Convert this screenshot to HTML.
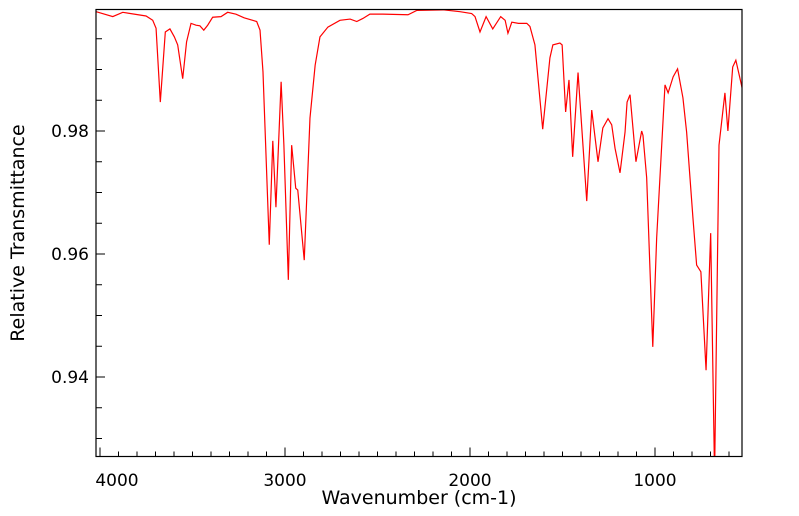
<!DOCTYPE html>
<html><head><meta charset="utf-8"><style>
html,body{margin:0;padding:0;background:#fff;}
svg{display:block;font-family:"DejaVu Sans","Liberation Sans",sans-serif;}
</style></head><body>
<svg id="chart" width="799" height="516" viewBox="0 0 799 516">
<defs><clipPath id="plotclip"><rect x="96" y="9.5" width="646" height="447"/></clipPath></defs>
<g id="axes"></g>
<path id="spectrum" fill="none" stroke="#ff0000" stroke-width="1.2" clip-path="url(#plotclip)"/>
<rect x="96" y="9.5" width="646" height="447" fill="none" stroke="#000" stroke-width="1.2"/>
<text x="419" y="504" text-anchor="middle" font-size="19">Wavenumber (cm-1)</text>
<text transform="translate(24,233) rotate(-90)" text-anchor="middle" font-size="19">Relative Transmittance</text>
</svg>
<script>
const wavenumbers = [4021,3931,3877,3751,3715,3697,3674,3647,3622,3598,3580,3553,3532,3508,3481,3460,3439,3418,3391,3346,3310,3265,3221,3153,3135,3119,3085,3066,3049,3021,3006,2982,2964,2942,2931,2896,2865,2837,2811,2768,2703,2648,2612,2579,2541,2471,2335,2288,2146,2054,1991,1973,1946,1913,1877,1834,1810,1795,1774,1738,1693,1676,1649,1607,1568,1552,1514,1502,1483,1465,1445,1416,1369,1342,1308,1282,1254,1234,1216,1189,1162,1151,1135,1103,1072,1065,1045,1012,991,946,929,902,878,849,829,795,775,752,724,699,678,654,622,606,580,563,541,527];
const transmittance = [0.9994,0.9986,0.9993,0.9987,0.9980,0.9967,0.9847,0.9961,0.9966,0.9953,0.9940,0.9885,0.9945,0.9975,0.9972,0.9971,0.9964,0.9972,0.9985,0.9986,0.9993,0.9990,0.9984,0.9978,0.9964,0.9896,0.9615,0.9784,0.9676,0.9880,0.9777,0.9558,0.9777,0.9707,0.9704,0.9590,0.9821,0.9907,0.9953,0.9969,0.9980,0.9982,0.9978,0.9983,0.9990,0.9990,0.9989,0.9996,0.9997,0.9994,0.9991,0.9986,0.9961,0.9986,0.9966,0.9986,0.9980,0.9959,0.9977,0.9975,0.9975,0.9970,0.9940,0.9803,0.9919,0.9940,0.9943,0.9940,0.9831,0.9883,0.9758,0.9895,0.9686,0.9834,0.9750,0.9805,0.9820,0.9810,0.9772,0.9732,0.9798,0.9847,0.9859,0.9750,0.9800,0.9793,0.9724,0.9449,0.9626,0.9875,0.9862,0.9888,0.9901,0.9854,0.9798,0.9659,0.9582,0.9571,0.9411,0.9634,0.9240,0.9777,0.9862,0.9800,0.9904,0.9915,0.9886,0.9867];
const xTickValues = [4000,3000,2000,1000];
const xTickLabels = ["4000","3000","2000","1000"];
const yTickValues = [0.94,0.96,0.98];
const yTickLabels = ["0.94","0.96","0.98"];

const NS = "http://www.w3.org/2000/svg";
function xScale(w){ return 285 + (3000 - w) * 0.185; }
function yScale(t){ return 131 - (t - 0.98) * 6150; }

let d = "";
for (let i = 0; i < wavenumbers.length; i++) {
  d += (i ? "L" : "M") + xScale(wavenumbers[i]).toFixed(2) + "," + yScale(transmittance[i]).toFixed(2);
}
const line = document.getElementById("spectrum");
line.setAttribute("d", d);

const axes = document.getElementById("axes");
function mk(tag, attrs){ const e = document.createElementNS(NS, tag); for (const k in attrs) e.setAttribute(k, attrs[k]); axes.appendChild(e); return e; }

for (let w = 4000; w >= 500; w -= 100) {
  const x = xScale(w);
  if (x < 96 || x > 742) continue;
  const major = w % 1000 === 0;
  const t = mk("line", {x1:x, x2:x, y1:456.5, y2:456.5 - (major ? 9 : 5), stroke:"#000", "stroke-width":1});
  
  
}
xTickValues.forEach((v, i) => {
  let x = xScale(v);
  if (i === 0) x = 117;
  const t = mk("text", {x:x, y:486, "text-anchor":"middle", "font-size":17});
  t.textContent = xTickLabels[i];
  
  
});
for (let k = 0; k <= 14; k++) {
  const v = 0.93 + k * 0.005;
  const y = yScale(v);
  if (y < 10 || y > 456) continue;
  const major = Math.abs(Math.round(v * 1000) % 20) === 0;
  const t = mk("line", {x1:96, x2:96 + (major ? 9 : 6), y1:y, y2:y, stroke:"#000", "stroke-width":1});
  
  
}
yTickValues.forEach((v, i) => {
  const t = mk("text", {x:89, y:yScale(v) + 6, "text-anchor":"end", "font-size":17});
  t.textContent = yTickLabels[i];
  
  
});
</script>
</body></html>
